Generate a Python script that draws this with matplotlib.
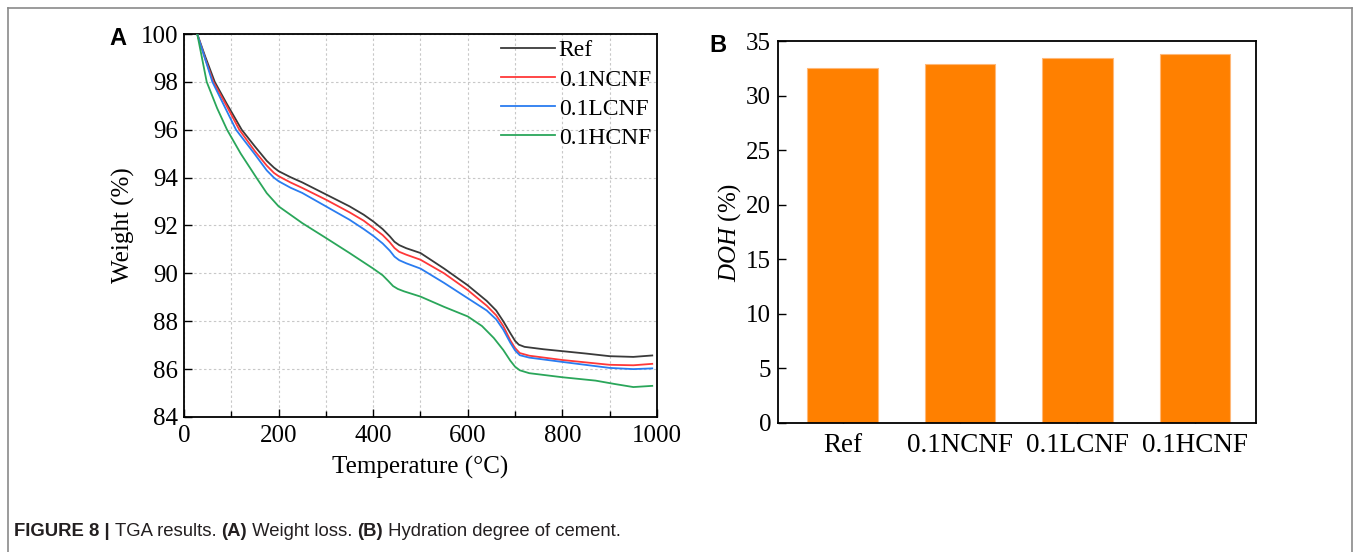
import matplotlib.pyplot as plt
from matplotlib.lines import Line2D
from matplotlib.ticker import MultipleLocator

plt.rcParams["font.family"] = "Liberation Serif"
plt.rcParams["mathtext.fontset"] = "custom"
plt.rcParams["mathtext.it"] = "Liberation Serif:italic"
plt.rcParams["mathtext.rm"] = "Liberation Serif"

# (A) TGA weight loss curves
ref_t = [28, 45, 65, 90, 122, 150, 175, 190, 200, 225, 250, 300, 350, 380, 400, 420, 435, 445,
         455, 470, 500, 550, 600, 640, 660, 675, 690, 700, 708, 720, 760, 800, 850, 900, 950, 990]
ref_w = [100, 99.05, 98.0, 97.1, 96.0, 95.3, 94.7, 94.42, 94.27, 94.02, 93.8, 93.3, 92.8, 92.45,
         92.17, 91.85, 91.55, 91.32, 91.18, 91.05, 90.85, 90.2, 89.5, 88.85, 88.45, 88.0, 87.5,
         87.18, 87.02, 86.93, 86.83, 86.75, 86.65, 86.54, 86.51, 86.57]

ncnf_t = [28, 45, 62, 90, 117, 150, 175, 190, 200, 225, 250, 300, 350, 380, 400, 420, 435, 445,
          455, 470, 500, 550, 600, 640, 660, 675, 690, 700, 710, 730, 800, 900, 950, 990]
ncnf_w = [100, 98.95, 98.0, 97.0, 96.0, 95.1, 94.5, 94.2, 94.06, 93.8, 93.57, 93.08, 92.55, 92.2,
          91.9, 91.6, 91.3, 91.06, 90.9, 90.78, 90.57, 90.0, 89.3, 88.65, 88.25, 87.8, 87.2,
          86.88, 86.67, 86.56, 86.38, 86.18, 86.16, 86.22]

lcnf_t = [28, 44, 60, 85, 110, 150, 175, 190, 200, 225, 250, 300, 350, 380, 400, 420, 435, 445,
          455, 470, 500, 550, 600, 640, 660, 675, 690, 700, 710, 730, 800, 900, 950, 990]
lcnf_w = [100, 99.0, 98.0, 97.0, 96.0, 94.97, 94.3, 94.0, 93.85, 93.58, 93.36, 92.8, 92.24, 91.85,
          91.57, 91.25, 90.95, 90.7, 90.55, 90.42, 90.2, 89.6, 88.96, 88.45, 88.08, 87.65, 87.1,
          86.78, 86.58, 86.48, 86.3, 86.05, 86.0, 86.03]

hcnf_t = [28, 38, 48, 70, 91, 120, 153, 175, 200, 225, 250, 300, 350, 400, 420, 432, 442, 452,
          465, 500, 550, 600, 630, 655, 675, 690, 700, 710, 730, 800, 870, 910, 950, 990]
hcnf_w = [100, 99.0, 98.0, 96.9, 96.0, 95.0, 94.0, 93.35, 92.8, 92.45, 92.1, 91.48, 90.85, 90.2,
          89.92, 89.68, 89.47, 89.35, 89.25, 89.03, 88.6, 88.2, 87.8, 87.3, 86.8, 86.35, 86.1,
          85.95, 85.83, 85.66, 85.52, 85.38, 85.25, 85.3]

series_labels = ["Ref", "0.1NCNF", "0.1LCNF", "0.1HCNF"]
series_colors = ["#3a3a3a", "#ff3838", "#2a7cf0", "#2aa65a"]

# (B) hydration degree
doh_groups = ["Ref", "0.1NCNF", "0.1LCNF", "0.1HCNF"]
doh_values = [32.55, 32.87, 33.42, 33.85]

fig = plt.figure(figsize=(13.54, 5.52), dpi=100)

# ---- panel A ----
ax_a = fig.add_axes([0.1359, 0.2446, 0.3493, 0.6938])
curves = [(ref_t, ref_w), (ncnf_t, ncnf_w), (lcnf_t, lcnf_w), (hcnf_t, hcnf_w)]
for (temps, weights), label, color in zip(curves, series_labels, series_colors):
    ax_a.plot(temps, weights, color=color, linewidth=1.3, label=label, zorder=3)

ax_a.set_xlim(0, 1000)
ax_a.set_ylim(84, 100)
ax_a.xaxis.set_major_locator(MultipleLocator(200))
ax_a.xaxis.set_minor_locator(MultipleLocator(100))
ax_a.yaxis.set_major_locator(MultipleLocator(2))
grid_style = dict(color="#c8c8c8", linestyle=(0, (2.2, 2.2)), linewidth=0.8)
ax_a.grid(True, which="both", axis="x", **grid_style)
ax_a.grid(True, which="major", axis="y", **grid_style)
ax_a.tick_params(which="major", direction="in", length=6, width=1.0, labelsize=18, pad=4)
ax_a.tick_params(axis="x", pad=6)
ax_a.tick_params(which="minor", direction="in", length=4, width=1.0)
for spine in ax_a.spines.values():
    spine.set_linewidth(1.3)
ax_a.set_xlabel("Temperature (°C)", fontsize=18, labelpad=6)
ax_a.set_ylabel("Weight (%)", fontsize=18, labelpad=4)
ax_a.legend(
    loc="upper right",
    bbox_to_anchor=(1.0, 1.0),
    frameon=False,
    fontsize=17,
    handlelength=2.3,
    handletextpad=0.15,
    labelspacing=0.32,
    borderaxespad=0.0,
    borderpad=0.25,
)
fig.text(0.081, 0.93, "A", fontsize=17, fontweight="bold", family="Liberation Sans", va="center")

# ---- panel B ----
ax_b = fig.add_axes([0.5746, 0.2337, 0.3530, 0.6920])
positions = list(range(len(doh_groups)))
ax_b.bar(positions, doh_values, width=0.6, color="#ff8000", edgecolor="#ffb878", linewidth=0.8, zorder=2)
ax_b.set_xlim(-0.55, 3.52)
ax_b.set_ylim(0, 35)
ax_b.set_xticks(positions)
ax_b.set_xticklabels(doh_groups)
ax_b.yaxis.set_major_locator(MultipleLocator(5))
ax_b.tick_params(direction="in", length=6, width=1.0, labelsize=18, pad=5)
ax_b.tick_params(axis="x", labelsize=19.5, pad=7)
for spine in ax_b.spines.values():
    spine.set_linewidth(1.3)
ax_b.set_ylabel(r"$\it{DOH}$ (%)", fontsize=18, labelpad=2)
fig.text(0.524, 0.918, "B", fontsize=17, fontweight="bold", family="Liberation Sans", va="center")

# ---- outer frame ----
frame_color = "#8a8a8a"
fig.add_artist(Line2D([8 / 1354, 8 / 1354], [0, 1 - 8 / 552], color=frame_color, linewidth=1.2))
fig.add_artist(Line2D([8 / 1354, 1352 / 1354], [1 - 8 / 552, 1 - 8 / 552], color=frame_color, linewidth=1.2))
fig.add_artist(Line2D([1352 / 1354, 1352 / 1354], [0, 1 - 8 / 552], color=frame_color, linewidth=1.2))

# ---- caption ----
caption_parts = [
    ("FIGURE 8 | ", "bold"),
    ("TGA results. ", "normal"),
    ("(A)", "bold"),
    (" Weight loss. ", "normal"),
    ("(B)", "bold"),
    (" Hydration degree of cement.", "normal"),
]
renderer = fig.canvas.get_renderer()
x_cursor = 14 / 1354
for text, weight in caption_parts:
    t = fig.text(x_cursor, 1 - 532 / 552, text, fontsize=13.3, fontweight=weight,
                 family="Liberation Sans", va="center", color="#231f20")
    bbox = t.get_window_extent(renderer=renderer)
    x_cursor += bbox.width / fig.bbox.width

fig.savefig("out.png", dpi=100)
